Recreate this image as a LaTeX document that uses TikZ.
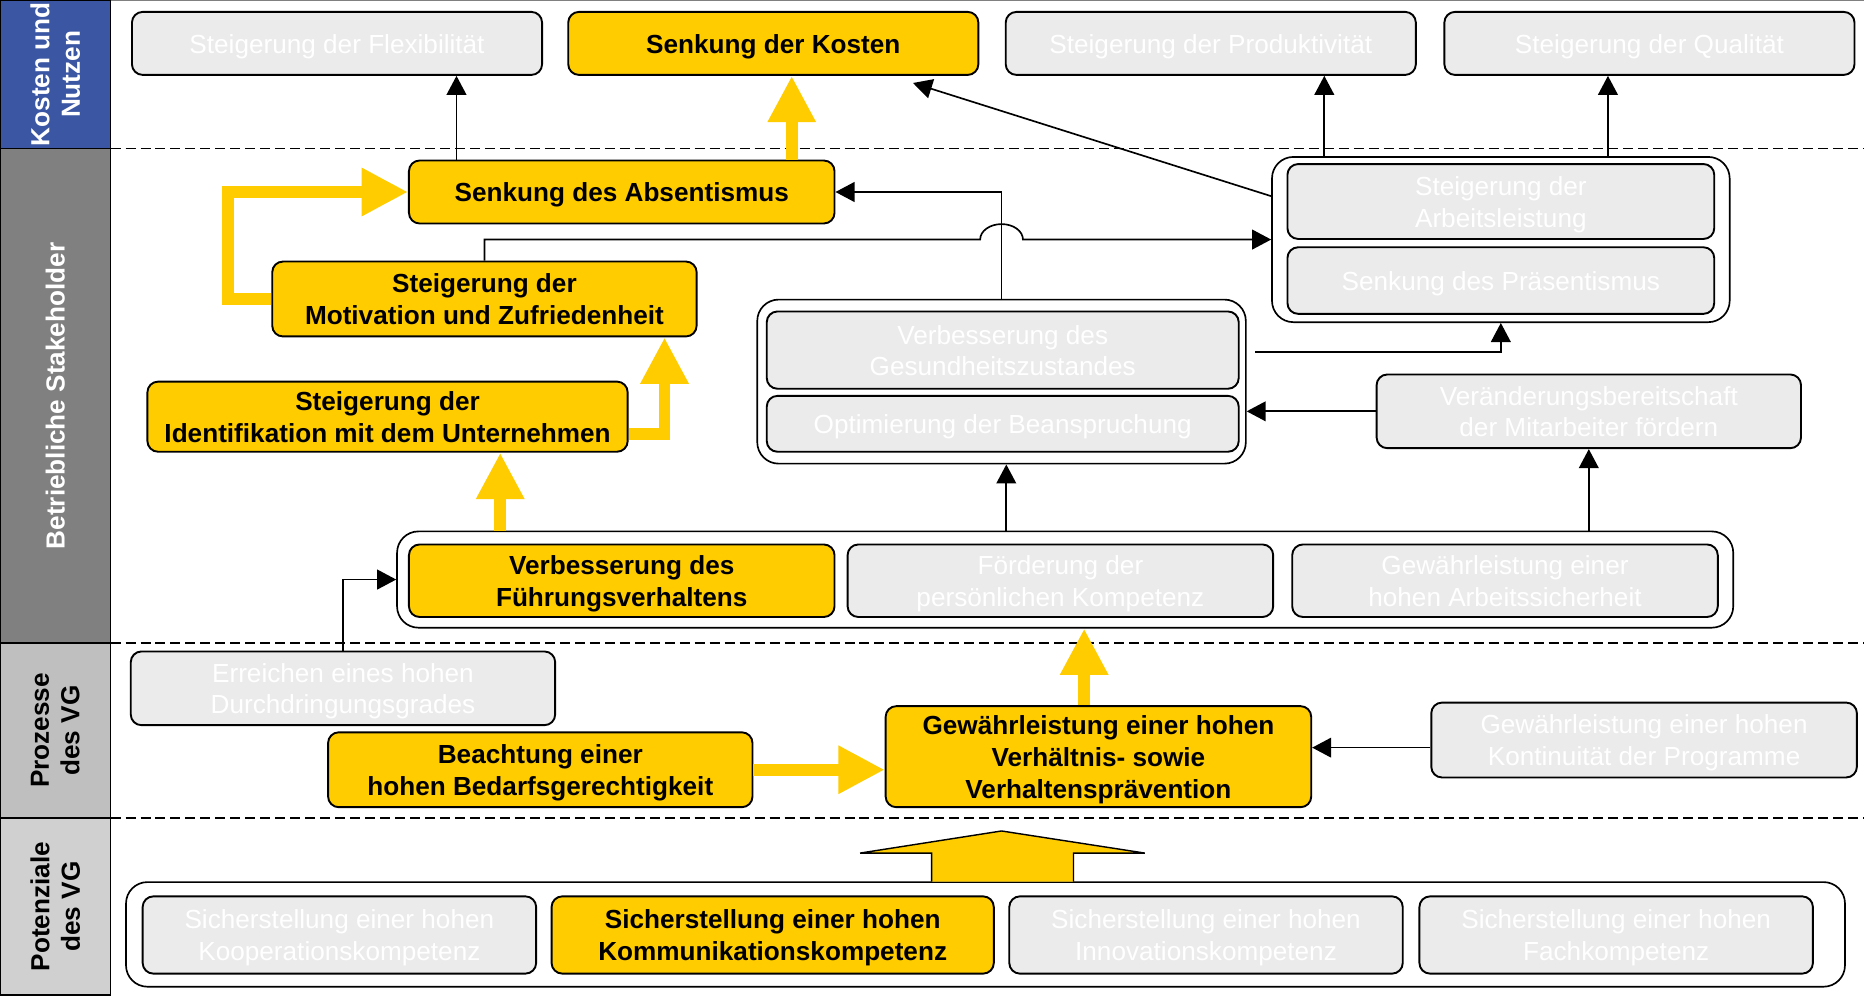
\documentclass[tikz,border=0pt]{standalone}
\usepackage{fontspec}
\setmainfont{Liberation Sans}
\usetikzlibrary{arrows.meta,calc}
\definecolor{kyellow}{HTML}{FFCC00}
\definecolor{kgray}{HTML}{EBEBEB}
\definecolor{bandblue}{RGB}{59,86,163}
\definecolor{bandgray}{HTML}{808080}
\definecolor{bandlight}{HTML}{BFBFBF}
\definecolor{bandlighter}{HTML}{D0D0D0}
\newcommand\mkbox[7]{\node[#1, minimum width={(#5-#3)*0.5pt}, minimum height={(#6-#4)*0.5pt}] (#2) at ({(#3+#5)/2},{(#4+#6)/2}) {\rule{0pt}{11.2pt}#7\rule[-3pt]{0pt}{0pt}};}
\begin{document}
\begin{tikzpicture}[x=0.5pt,y=-0.5pt,
  base/.style={rectangle, rounded corners=4.5pt, draw=black, line width=0.8pt, inner sep=0pt, align=center, font=\fontsize{11}{13.3}\selectfont},
  ybox/.style={base, fill=kyellow, font=\fontsize{11}{13.3}\selectfont\bfseries},
  gbox/.style={base, fill=kgray, text=white},
  grp/.style={rectangle, rounded corners=9pt, draw=black, line width=0.7pt, fill=white, inner sep=0pt},
  conn/.style={draw=black, line width=0.7pt, -{Triangle[length=8pt,width=8.3pt]}},
  yarrow/.style={draw=kyellow, line width=5pt, -{Triangle[length=19.5pt,width=19pt]}},
  band/.style={rectangle, draw=black, line width=0.6pt, inner sep=0pt, align=center, rotate=90, font=\fontsize{11}{12.8}\selectfont\bfseries},
  sep/.style={draw=black, line width=0.55pt, dash pattern=on 4.2pt off 2.1pt}
]
\useasboundingbox (0,0) rectangle (1568,837);
\fill[white] (0,0) rectangle (1568,837);

% bands
\node[band, fill=bandblue, text=white, minimum width=62.5pt, minimum height=46.5pt] (b1) at (46.5,62.5) {Kosten und\\Nutzen};
\node[band, fill=bandgray, text=white, minimum width=208pt, minimum height=46.5pt] (b2) at (46.5,333) {Betriebliche Stakeholder};
\node[band, fill=bandlight, minimum width=73.5pt, minimum height=46.5pt] (b3) at (46.5,614.5) {Prozesse\\des VG};
\node[band, fill=bandlighter, minimum width=74.5pt, minimum height=46.5pt] (b4) at (46.5,762.5) {Potenziale\\des VG};

\draw[gray, line width=0.6pt] (93,0.6) -- (1568,0.6);
\draw[sep] (93,125) -- (1568,125);
\draw[sep] (93,541) -- (1568,541);
\draw[sep] (93,688) -- (1568,688);

% row 1
\mkbox{gbox}{flex}{111}{10}{456}{63}{Steigerung der Flexibilität}
\mkbox{ybox}{kosten}{478}{10}{823}{63}{Senkung der Kosten}
\mkbox{gbox}{prod}{846}{10}{1191}{63}{Steigerung der Produktivität}
\mkbox{gbox}{qual}{1215}{10}{1560}{63}{Steigerung der Qualität}

% row 2
\mkbox{ybox}{absent}{344}{135}{702}{188}{Senkung des Absentismus}
\mkbox{ybox}{motiv}{229}{220}{586}{283}{Steigerung der\\Motivation und Zufriedenheit}
\mkbox{grp}{grp1}{1070}{132}{1455}{271}{}
\mkbox{gbox}{arbeit}{1083}{138}{1442}{201}{Steigerung der\\Arbeitsleistung}
\mkbox{gbox}{praes}{1083}{208}{1442}{264}{Senkung des Präsentismus}
\mkbox{ybox}{ident}{124}{321}{528}{380}{Steigerung der\\Identifikation mit dem Unternehmen}
\mkbox{grp}{grp2}{637}{252}{1048}{390}{}
\mkbox{gbox}{gesund}{645}{262}{1042}{327}{Verbesserung des\\Gesundheitszustandes}
\mkbox{gbox}{beans}{645}{333}{1042}{380}{Optimierung der Beanspruchung}
\mkbox{gbox}{veraend}{1158}{315}{1515}{377}{Veränderungsbereitschaft\\der Mitarbeiter fördern}

% row 3
\mkbox{grp}{grp3}{334}{447}{1458}{528}{}
\mkbox{ybox}{fuehr}{344}{458}{702}{519}{Verbesserung des\\Führungsverhaltens}
\mkbox{gbox}{pers}{713}{458}{1071}{519}{Förderung der\\persönlichen Kompetenz}
\mkbox{gbox}{sicher}{1087}{458}{1445}{519}{Gewährleistung einer\\hohen Arbeitssicherheit}

% row 4
\mkbox{gbox}{erreich}{110}{548}{467}{610}{Erreichen eines hohen\\Durchdringungsgrades}
\mkbox{ybox}{beacht}{276}{616}{633}{679}{Beachtung einer\\hohen Bedarfsgerechtigkeit}
\mkbox{ybox}{gewaehr}{745}{594}{1103}{679}{Gewährleistung einer hohen\\Verhältnis- sowie\\Verhaltensprävention}
\mkbox{gbox}{kontin}{1204}{591}{1562}{654}{Gewährleistung einer hohen\\Kontinuität der Programme}

% row 5
\mkbox{grp}{grp5}{106}{742}{1552}{830}{}
\mkbox{gbox}{koop}{120}{754}{451}{819}{Sicherstellung einer hohen\\Kooperationskompetenz}
\mkbox{ybox}{komm}{464}{754}{836}{819}{Sicherstellung einer hohen\\Kommunikationskompetenz}
\mkbox{gbox}{innov}{849}{754}{1180}{819}{Sicherstellung einer hohen\\Innovationskompetenz}
\mkbox{gbox}{fach}{1194}{754}{1525}{819}{Sicherstellung einer hohen\\Fachkompetenz}

% big block arrow
\filldraw[fill=kyellow, draw=black, line width=0.6pt] (783.6,741.7) -- (783.6,717.6) -- (723.5,717.6) -- (842.5,699) -- (963,717.6) -- (903,717.6) -- (903,741.7);

% black connectors
\coordinate (hopc) at (grp2.north |- grp1.west);
\draw[conn] (motiv.north) |- ([xshift=-9pt]hopc) arc[start angle=180, end angle=0, x radius=9pt, y radius=6.5pt] -- (grp1.west);
\draw[conn] (grp2.north) |- (absent.east);
\coordinate (a1) at ([xshift=-69.5pt]absent.north);
\draw[conn] (a1) -- (a1 |- flex.south);
\coordinate (c1) at ([yshift=18.25pt]grp1.west);
\coordinate (c2) at ([xshift=58.75pt,yshift=-3pt]kosten.south);
\draw[conn] (c1) -- (c2);
\coordinate (p1) at ([xshift=-74.25pt]grp1.north);
\draw[conn] (p1) -- (p1 |- prod.south);
\coordinate (q1) at ([xshift=45.05pt]grp1.north);
\draw[conn] (q1) -- (q1 |- qual.south);
\coordinate (g1) at ([xshift=3.5pt,yshift=12.5pt]grp2.east);
\draw[conn] (g1) -| (grp1.south);
\draw[conn] (veraend.west) -- (veraend.west -| grp2.east);
\draw[conn] (veraend.south |- grp3.north) -- (veraend.south);
\coordinate (g2) at ([xshift=2pt]grp2.south);
\draw[conn] (g2 |- grp3.north) -- (g2);
\draw[conn] (erreich.north) |- (grp3.west);
\coordinate (k1) at ([yshift=-3.2pt]kontin.west);
\draw[conn] (k1) -- (k1 -| gewaehr.east);

% yellow arrows
\coordinate (y1) at ([xshift=71.5pt]absent.north);
\draw[yarrow] (y1) -- (y1 |- kosten.south);
\draw[yarrow] (motiv.west) -- ++(-36.5,0) |- (absent.west);
\coordinate (y2) at ([yshift=-7.25pt]ident.east);
\coordinate (y3) at ([xshift=75.75pt]motiv.south);
\draw[yarrow] (y2) -| (y3);
\coordinate (y4) at ([xshift=-237.6pt]grp3.north);
\draw[yarrow] (y4) -- (y4 |- ident.south);
\coordinate (y5) at ([xshift=-6pt]gewaehr.north);
\draw[yarrow] (y5) -- (y5 |- grp3.south);
\draw[yarrow] (beacht.east) -- (beacht.east -| gewaehr.west);
\end{tikzpicture}
\end{document}
